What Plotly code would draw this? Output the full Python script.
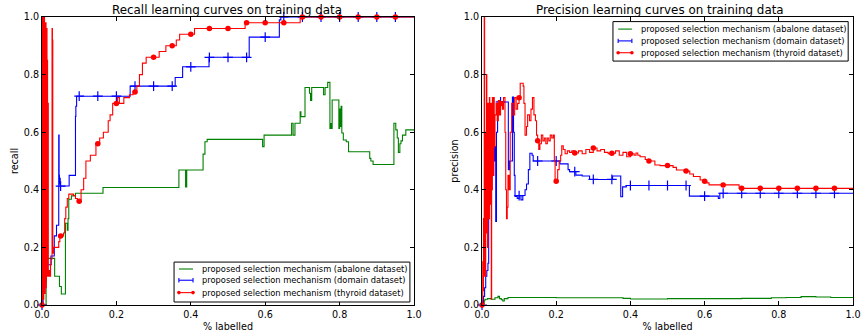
import numpy as np
import plotly.graph_objects as go

# ---------------------------------------------------------------------------
# Learning-curve data: (fraction labelled, metric) breakpoints, drawn as steps
# ---------------------------------------------------------------------------
recall_abalone_x = [0.000, 0.010, 0.011, 0.012, 0.013, 0.032, 0.034, 0.047, 0.052, 0.063,
                    0.068, 0.070, 0.072, 0.079, 0.090, 0.164, 0.368, 0.386, 0.389, 0.433,
                    0.438, 0.444, 0.593, 0.597, 0.671, 0.675, 0.680, 0.694, 0.696, 0.707,
                    0.719, 0.722, 0.725, 0.757, 0.761, 0.768, 0.774, 0.776, 0.778, 0.780,
                    0.798, 0.800, 0.802, 0.804, 0.806, 0.810, 0.818, 0.824, 0.881, 0.884,
                    0.890, 0.946, 0.951, 0.955, 0.958, 0.962, 0.965, 0.969, 0.978, 1.000]
recall_abalone_y = [0.000, 0.000, 0.080, 0.130, 0.162, 0.162, 0.100, 0.064, 0.038, 0.284,
                    0.260, 0.300, 0.367, 0.379, 0.388, 0.408, 0.469, 0.410, 0.469, 0.524,
                    0.567, 0.575, 0.550, 0.590, 0.631, 0.590, 0.631, 0.671, 0.654, 0.755,
                    0.735, 0.710, 0.755, 0.730, 0.755, 0.773, 0.613, 0.630, 0.613, 0.712,
                    0.613, 0.680, 0.620, 0.690, 0.597, 0.573, 0.567, 0.532, 0.509, 0.500,
                    0.488, 0.631, 0.608, 0.580, 0.530, 0.560, 0.570, 0.590, 0.608, 0.608]

recall_domain_x = [0.000, 0.003, 0.006, 0.009, 0.012, 0.024, 0.033, 0.039, 0.045, 0.046,
                   0.047, 0.048, 0.049, 0.073, 0.090, 0.091, 0.093, 0.237, 0.358, 0.378,
                   0.449, 0.557, 0.638, 0.642, 1.000]
recall_domain_y = [0.000, 0.040, 0.080, 0.120, 0.140, 0.170, 0.240, 0.277, 0.590, 0.450,
                   0.420, 0.440, 0.413, 0.450, 0.655, 0.690, 0.725, 0.760, 0.790, 0.827,
                   0.860, 0.930, 0.990, 1.000, 1.000]

recall_thyroid_x = [0.000, 0.0010, 0.0015, 0.0020, 0.0028, 0.0035, 0.0040, 0.0048, 0.0055, 0.0060,
                    0.0068, 0.0075, 0.0080, 0.0088, 0.0095, 0.0100, 0.0108, 0.0115, 0.0120, 0.0128,
                    0.0135, 0.0140, 0.0150, 0.0160, 0.0170, 0.0180, 0.021, 0.023, 0.025, 0.027,
                    0.028, 0.029, 0.031, 0.045, 0.048, 0.058, 0.061, 0.064, 0.068, 0.072,
                    0.085, 0.090, 0.095, 0.105, 0.112, 0.118, 0.130, 0.145, 0.155, 0.165,
                    0.178, 0.183, 0.190, 0.203, 0.208, 0.220, 0.235, 0.245, 0.255, 0.262,
                    0.270, 0.280, 0.315, 0.333, 0.361, 0.370, 0.410, 0.546, 0.694, 1.000]
recall_thyroid_y = [0.000, 1.000, 0.050, 0.980, 0.100, 1.000, 0.020, 0.960, 0.080, 1.000,
                    0.120, 0.980, 0.040, 0.940, 0.100, 0.980, 0.060, 0.900, 0.120, 0.960,
                    0.100, 0.850, 0.140, 0.700, 0.100, 0.120, 0.100, 0.140, 0.160, 0.960,
                    0.920, 0.180, 0.200, 0.220, 0.240, 0.250, 0.300, 0.340, 0.370, 0.385,
                    0.380, 0.370, 0.360, 0.400, 0.440, 0.500, 0.520, 0.560, 0.580, 0.600,
                    0.640, 0.660, 0.700, 0.720, 0.700, 0.720, 0.730, 0.740, 0.760, 0.800,
                    0.840, 0.860, 0.880, 0.900, 0.920, 0.940, 0.960, 0.980, 1.000, 1.000]

precision_abalone_x = [0.000, 0.004, 0.006, 0.008, 0.015, 0.025, 0.035, 0.043, 0.047, 0.052,
                       0.056, 0.060, 0.070, 0.100, 0.200, 0.300, 0.380, 0.400, 0.500, 0.600,
                       0.700, 0.780, 0.820, 0.860, 0.900, 0.940, 1.000]
precision_abalone_y = [0.000, 0.005, 0.015, 0.020, 0.022, 0.020, 0.025, 0.030, 0.022, 0.018,
                       0.014, 0.022, 0.026, 0.026, 0.025, 0.025, 0.023, 0.021, 0.022, 0.022,
                       0.023, 0.025, 0.026, 0.029, 0.028, 0.026, 0.026]

precision_domain_x = [0.000, 0.004, 0.007, 0.010, 0.013, 0.016, 0.018, 0.020, 0.022, 0.024,
                      0.028, 0.031, 0.034, 0.037, 0.039, 0.042, 0.045, 0.071, 0.074, 0.082,
                      0.085, 0.087, 0.089, 0.095, 0.100, 0.105, 0.110, 0.116, 0.120, 0.125,
                      0.129, 0.135, 0.138, 0.210, 0.232, 0.236, 0.253, 0.270, 0.290, 0.352,
                      0.374, 0.379, 0.389, 0.559, 0.637, 0.641, 1.000]
precision_domain_y = [0.000, 0.030, 0.060, 0.100, 0.120, 0.145, 0.580, 0.500, 0.600, 0.520,
                      0.614, 0.500, 0.550, 0.290, 0.600, 0.700, 0.705, 0.470, 0.500, 0.722,
                      0.600, 0.450, 0.377, 0.370, 0.380, 0.365, 0.380, 0.400, 0.420, 0.470,
                      0.527, 0.520, 0.500, 0.490, 0.470, 0.463, 0.451, 0.448, 0.436, 0.448,
                      0.376, 0.410, 0.415, 0.378, 0.370, 0.388, 0.388]

precision_thyroid_x = [0.000, 0.002, 0.003, 0.004, 0.005, 0.006, 0.007, 0.008, 0.009, 0.010,
                       0.011, 0.012, 0.013, 0.014, 0.015, 0.016, 0.017, 0.018, 0.019, 0.020,
                       0.021, 0.022, 0.023, 0.024, 0.025, 0.026, 0.027, 0.028, 0.029, 0.030,
                       0.031, 0.032, 0.033, 0.035, 0.038, 0.041, 0.044, 0.047, 0.050, 0.055,
                       0.058, 0.062, 0.064, 0.066, 0.068, 0.070, 0.073, 0.076, 0.080, 0.084,
                       0.088, 0.092, 0.096, 0.100, 0.103, 0.111, 0.113, 0.116, 0.120, 0.123,
                       0.128, 0.132, 0.136, 0.140, 0.144, 0.147, 0.150, 0.153, 0.156, 0.160,
                       0.164, 0.168, 0.172, 0.176, 0.180, 0.184, 0.188, 0.192, 0.195, 0.197,
                       0.204, 0.208, 0.212, 0.215, 0.219, 0.224, 0.230, 0.236, 0.242, 0.250,
                       0.260, 0.270, 0.280, 0.290, 0.300, 0.310, 0.320, 0.330, 0.340, 0.350,
                       0.360, 0.370, 0.380, 0.390, 0.400, 0.410, 0.415, 0.420, 0.426, 0.440,
                       0.448, 0.466, 0.480, 0.504, 0.515, 0.524, 0.545, 0.560, 0.570, 0.588,
                       0.597, 0.606, 0.612, 0.693, 1.000]
precision_thyroid_y = [0.000, 0.150, 0.050, 0.300, 0.100, 1.000, 0.200, 0.450, 0.100, 0.600,
                       0.250, 0.800, 0.300, 0.650, 0.200, 0.700, 0.400, 0.550, 0.300, 0.720,
                       0.450, 0.640, 0.350, 0.700, 0.020, 0.600, 0.400, 0.720, 0.500, 0.680,
                       0.450, 0.720, 0.550, 0.660, 0.700, 0.640, 0.710, 0.660, 0.700, 0.680,
                       0.720, 0.600, 0.400, 0.300, 0.340, 0.450, 0.400, 0.600, 0.700, 0.660,
                       0.720, 0.680, 0.700, 0.720, 0.770, 0.760, 0.700, 0.590, 0.620, 0.660,
                       0.640, 0.680, 0.720, 0.660, 0.640, 0.590, 0.570, 0.540, 0.560, 0.590,
                       0.570, 0.580, 0.560, 0.580, 0.570, 0.590, 0.580, 0.590, 0.500, 0.430,
                       0.470, 0.500, 0.520, 0.553, 0.540, 0.525, 0.535, 0.530, 0.535, 0.528,
                       0.535, 0.525, 0.540, 0.530, 0.545, 0.535, 0.540, 0.530, 0.525, 0.527,
                       0.535, 0.520, 0.530, 0.515, 0.525, 0.520, 0.528, 0.520, 0.515, 0.505,
                       0.500, 0.486, 0.484, 0.484, 0.478, 0.469, 0.465, 0.455, 0.446, 0.434,
                       0.430, 0.424, 0.417, 0.405, 0.405]

# marker positions along each curve (every 5% labelled)
marker_x = [0.00, 0.05, 0.10, 0.15, 0.20, 0.25, 0.30, 0.35, 0.40, 0.45,
            0.50, 0.55, 0.60, 0.65, 0.70, 0.75, 0.80, 0.85, 0.90, 0.95]

tick_vals = [0.0, 0.2, 0.4, 0.6, 0.8, 1.0]
tick_text = ["0.0", "0.2", "0.4", "0.6", "0.8", "1.0"]

series_names = ["proposed selection mechanism (abalone dataset)",
                "proposed selection mechanism (domain dataset)",
                "proposed selection mechanism (thyroid dataset)"]

GREEN, BLUE, RED = "#008000", "#0000ff", "#ff0000"
FONT = "DejaVu Sans"


def step_value(xs, ys, at):
    xs = np.asarray(xs)
    ys = np.asarray(ys)
    idx = np.searchsorted(xs, np.asarray(at), side="right") - 1
    return ys[np.clip(idx, 0, len(ys) - 1)]


fig = go.Figure()


def add_curve(xs, ys, color, axis, marker=None):
    xa, ya = axis
    fig.add_trace(go.Scatter(x=xs, y=ys, mode="lines", line=dict(color=color, width=1.1, shape="hv"),
                             xaxis=xa, yaxis=ya, showlegend=False, hoverinfo="skip"))
    if marker is not None:
        fig.add_trace(go.Scatter(x=marker_x, y=step_value(xs, ys, marker_x), mode="markers",
                                 marker=marker, xaxis=xa, yaxis=ya, showlegend=False,
                                 cliponaxis=False, hoverinfo="skip"))


blue_marker = dict(symbol="cross-thin", size=7, line=dict(color=BLUE, width=1.2), color=BLUE)
red_marker = dict(symbol="circle", size=5.5, color=RED, line=dict(width=0))

add_curve(recall_abalone_x, recall_abalone_y, GREEN, ("x", "y"))
add_curve(recall_domain_x, recall_domain_y, BLUE, ("x", "y"), blue_marker)
add_curve(recall_thyroid_x, recall_thyroid_y, RED, ("x", "y"), red_marker)

add_curve(precision_abalone_x, precision_abalone_y, GREEN, ("x2", "y2"))
add_curve(precision_domain_x, precision_domain_y, BLUE, ("x2", "y2"), blue_marker)
add_curve(precision_thyroid_x, precision_thyroid_y, RED, ("x2", "y2"), red_marker)

axis_style = dict(range=[0, 1], showgrid=False, zeroline=False, showline=True,
                  linecolor="black", linewidth=1, mirror="ticks", ticks="inside",
                  ticklen=4, tickwidth=1, tickcolor="black",
                  tickvals=tick_vals, ticktext=tick_text, automargin=False,
                  tickfont=dict(family=FONT, size=9.6, color="black"))

shapes = []
annotations = []


def add_legend(xr, yr, box, rows_y, line_x, text_x):
    shapes.append(dict(type="rect", xref=xr, yref=yr, x0=box[0], x1=box[1], y0=box[2], y1=box[3],
                       line=dict(color="black", width=1), fillcolor="white", layer="above"))
    styles = [(GREEN, None), (BLUE, "plus"), (RED, "dot")]
    for (color, kind), ry, name in zip(styles, rows_y, series_names):
        shapes.append(dict(type="line", xref=xr, yref=yr, x0=line_x[0], x1=line_x[1], y0=ry, y1=ry,
                           line=dict(color=color, width=1.1), layer="above"))
        for ex in line_x:
            if kind == "dot":
                shapes.append(dict(type="circle", xref=xr, yref=yr, xsizemode="pixel",
                                   ysizemode="pixel", xanchor=ex, yanchor=ry, x0=-1.8, x1=1.8,
                                   y0=-1.8, y1=1.8, fillcolor=color, line=dict(width=0),
                                   layer="above"))
            elif kind == "plus":
                shapes.append(dict(type="line", xref=xr, yref=yr, xsizemode="pixel",
                                   ysizemode="pixel", xanchor=ex, yanchor=ry, x0=0, x1=0,
                                   y0=-2.2, y1=2.2, line=dict(color=color, width=1.1),
                                   layer="above"))
        annotations.append(dict(xref=xr, yref=yr, x=text_x, y=ry, text=name, showarrow=False,
                                xanchor="left", yanchor="middle",
                                font=dict(family=FONT, size=8.3, color="black")))


add_legend("x domain", "y domain", (0.355, 0.989, 0.0104, 0.149), (0.125, 0.086, 0.043),
           (0.368, 0.406), 0.425)
add_legend("x2 domain", "y2 domain", (0.353, 0.987, 0.847, 0.984), (0.958, 0.917, 0.876),
           (0.367, 0.404), 0.423)

# panel titles
annotations.append(dict(xref="paper", yref="paper", x=(227 - 42) / 811, y=(305 - 10) / 288,
                        text="Recall learning curves on training data", showarrow=False,
                        xanchor="center", yanchor="middle",
                        font=dict(family=FONT, size=11.9, color="black")))
annotations.append(dict(xref="paper", yref="paper", x=(660 - 42) / 811, y=(305 - 10) / 288,
                        text="Precision learning curves on training data", showarrow=False,
                        xanchor="center", yanchor="middle",
                        font=dict(family=FONT, size=11.9, color="black")))

title_font = dict(family=FONT, size=9.6, color="black")
fig.update_layout(
    template="none",
    width=862, height=336,
    margin=dict(l=42, r=9, t=17, b=31),
    paper_bgcolor="white", plot_bgcolor="white",
    font=dict(family=FONT, color="black"),
    showlegend=False,
    xaxis=dict(axis_style, domain=[0, 372 / 811], anchor="y",
               title=dict(text="% labelled", font=title_font, standoff=4)),
    yaxis=dict(axis_style, domain=[0, 1], anchor="x",
               title=dict(text="recall", font=title_font, standoff=3)),
    xaxis2=dict(axis_style, domain=[440 / 811, 1], anchor="y2",
                title=dict(text="% labelled", font=title_font, standoff=4)),
    yaxis2=dict(axis_style, domain=[0, 1], anchor="x2",
                title=dict(text="precision", font=title_font, standoff=3)),
    shapes=shapes,
    annotations=annotations,
)

fig.write_html("out.html")
